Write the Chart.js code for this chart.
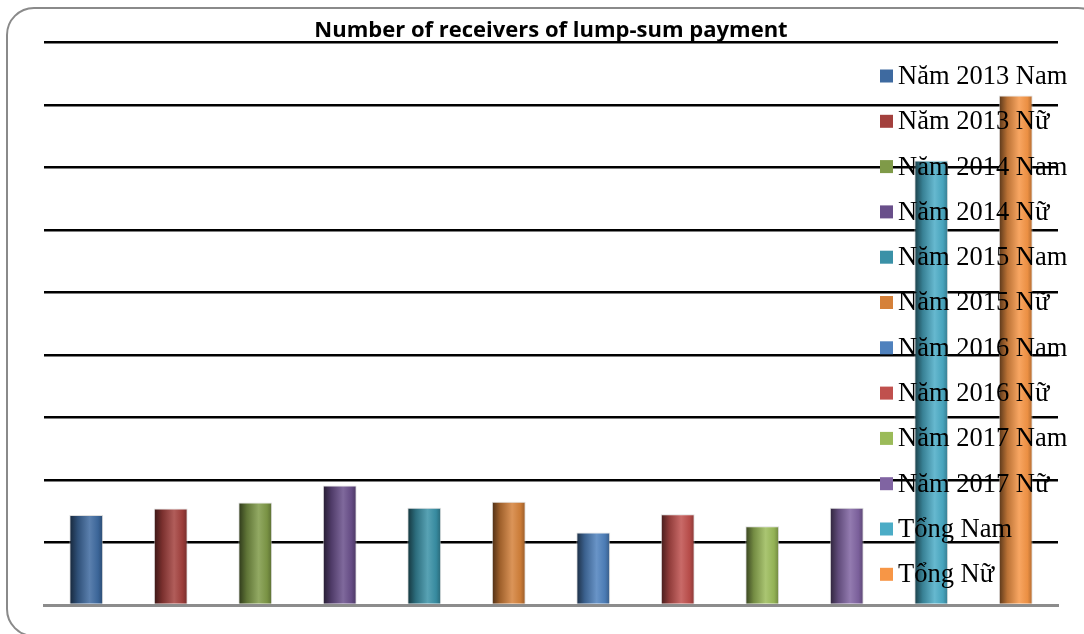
<!DOCTYPE html>
<html>
<head>
<meta charset="utf-8">
<script src="https://cdn.jsdelivr.net/npm/chart.js@4/dist/chart.umd.min.js"></script>
<style>
  html, body { margin: 0; padding: 0; background: #fff; }
  #wrap { position: relative; width: 1084px; height: 634px; overflow: hidden; }
  #frame { position: absolute; left: 6px; top: 7px; width: 1100px; height: 630px;
           border: 2px solid #8a8a8a; border-radius: 28px; box-sizing: border-box; }
  canvas { position: absolute; left: 0; top: 0; }
</style>
</head>
<body>
<div id="wrap">
  <div id="frame"></div>
  <canvas id="c" width="1084" height="634"></canvas>
</div>
<script>
// ---- data (values in gridline units) ----
const categories = ["Năm 2013 Nam","Năm 2013 Nữ","Năm 2014 Nam","Năm 2014 Nữ","Năm 2015 Nam","Năm 2015 Nữ",
                    "Năm 2016 Nam","Năm 2016 Nữ","Năm 2017 Nam","Năm 2017 Nữ","Tổng Nam","Tổng Nữ"];
const values = [1.44, 1.545, 1.64, 1.91, 1.555, 1.65, 1.16, 1.45, 1.26, 1.555, 7.11, 8.15];
const colors = ["#3e6aa0","#a3403d","#7f9a48","#694f8a","#3a91a7","#d5813a",
                "#4f81bd","#c0504d","#9bbb59","#8064a2","#4bacc6","#f79646"];
const yMax = 9;
const yStep = 1;

function shade(hex, f) {
  const n = parseInt(hex.slice(1), 16);
  let r = (n >> 16) & 255, g = (n >> 8) & 255, b = n & 255;
  const adj = v => f < 1 ? Math.round(v * f) : Math.round(v + (255 - v) * (f - 1));
  return `rgb(${Math.min(255,adj(r))},${Math.min(255,adj(g))},${Math.min(255,adj(b))})`;
}

const BAR_PCT = 0.40;

function barGradient(ctx) {
  const chart = ctx.chart;
  const xs = chart.scales.x;
  const base = colors[ctx.datasetIndex];
  if (!xs || !chart.chartArea) return base;
  const cx = xs.getPixelForValue(ctx.dataIndex);
  const w = (chart.chartArea.width / categories.length) * BAR_PCT;
  const g = chart.ctx.createLinearGradient(cx - w / 2, 0, cx + w / 2, 0);
  g.addColorStop(0, shade(base, 0.35));
  g.addColorStop(0.25, shade(base, 0.75));
  g.addColorStop(0.6, shade(base, 1.15));
  g.addColorStop(0.85, shade(base, 0.95));
  g.addColorStop(1, shade(base, 0.7));
  return g;
}

const datasets = categories.map((name, i) => ({
  label: name,
  data: categories.map((_, j) => (j === i ? values[i] : null)),
  backgroundColor: barGradient,
  borderColor: "rgba(200,200,200,0.6)",
  borderWidth: 1,
  borderSkipped: "bottom",
  categoryPercentage: 1,
  barPercentage: BAR_PCT,
  skipNull: true
}));

const legendPlugin = {
  id: "overlayLegend",
  afterDraw(chart) {
    const c = chart.ctx;
    c.save();
    c.font = '26.5px "Liberation Serif", "Times New Roman", serif';
    c.textBaseline = "middle";
    chart.data.datasets.forEach((ds, i) => {
      const y = 76 + i * 45.3;
      c.fillStyle = colors[i];
      c.fillRect(880, y - 6.5, 13, 13);
      c.fillStyle = "#000";
      c.fillText(ds.label, 898, y + 1);
    });
    c.restore();
  }
};

new Chart(document.getElementById("c"), {
  type: "bar",
  data: { labels: categories, datasets },
  options: {
    responsive: false,
    animation: false,
    layout: { padding: { left: 44, right: 26, top: 0, bottom: 29 } },
    plugins: {
      legend: { display: false },
      tooltip: { enabled: false },
      title: {
        display: true,
        text: "Number of receivers of lump-sum payment",
        color: "#000",
        font: { family: "'Open Sans', 'Liberation Sans', sans-serif", size: 22, weight: "bold", lineHeight: 1.2 },
        padding: { top: 18, bottom: -2 }
      }
    },
    scales: {
      x: {
        grid: { display: false, drawTicks: false },
        ticks: { display: false },
        border: { display: true, color: "#8c8c8c", width: 3 }
      },
      y: {
        min: 0, max: yMax,
        afterFit(s) { s.width = 0; },
        ticks: { display: false, stepSize: yStep },
        grid: {
          drawTicks: false,
          color: c => (c.tick && c.tick.value === 0 ? "rgba(0,0,0,0)" : "#000"),
          lineWidth: 2.5
        },
        border: { display: false }
      }
    }
  },
  plugins: [legendPlugin]
});
</script>
</body>
</html>
